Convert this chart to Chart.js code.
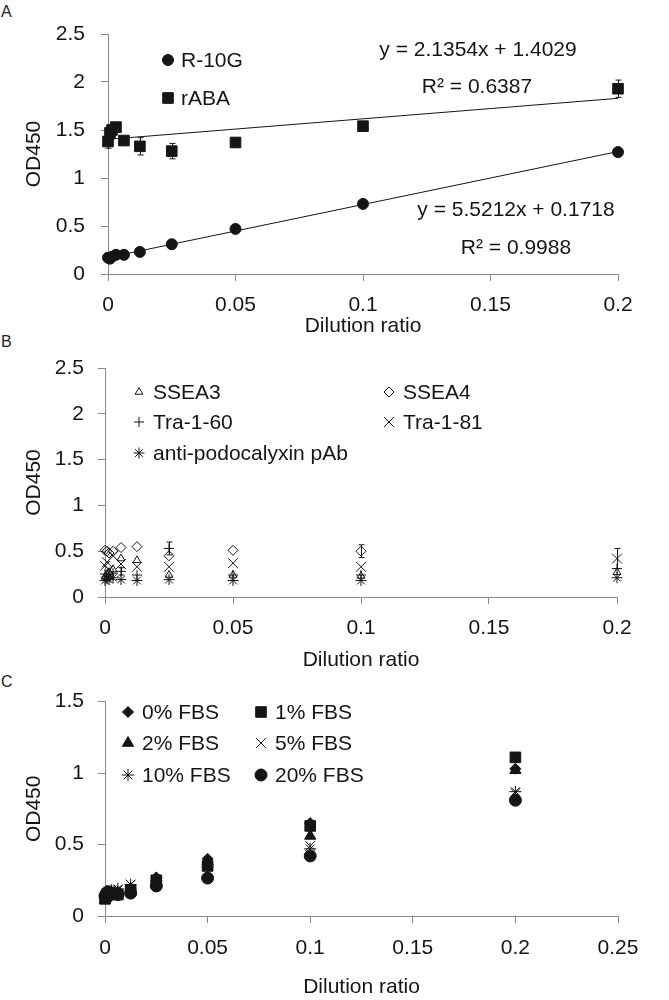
<!DOCTYPE html>
<html>
<head>
<meta charset="utf-8">
<title>OD450 vs dilution ratio</title>
<script src="https://cdn.jsdelivr.net/npm/chart.js@4.4.1/dist/chart.umd.min.js"></script>
<style>
  html, body { margin: 0; padding: 0; background: #fff; }
  body { position: relative; width: 669px; height: 1000px; overflow: hidden; font-family: "Liberation Sans", Arial, sans-serif; }
  canvas { position: absolute; left: 0; }
  .tag { position: absolute; left: 1px; font-size: 16px; line-height: 16px; color: #222; }
</style>
</head>
<body>
<div class="tag" style="top:4px">A</div>
<div class="tag" style="top:334px">B</div>
<div class="tag" style="top:674px">C</div>
<canvas id="chartA" width="669" height="340" style="top:0"></canvas>
<canvas id="chartB" width="669" height="335" style="top:340px"></canvas>
<canvas id="chartC" width="669" height="325" style="top:675px"></canvas>
<script>
const FONT = '"Liberation Sans", Arial, sans-serif';
const INK = '#151515';
const AXIS = '#8a8a8a';

// dilution series used by all three panels
const dilution = [0, 0.00078125, 0.0015625, 0.003125, 0.00625, 0.0125, 0.025, 0.05, 0.1, 0.2];

// panel A
const r10g = [0.17, 0.16, 0.18, 0.20, 0.20, 0.23, 0.31, 0.47, 0.73, 1.27];
const r10gErr = [0.01, 0.01, 0.01, 0.01, 0.01, 0.01, 0.02, 0.02, 0.02, 0.02];
const rABA = [1.38, 1.47, 1.50, 1.53, 1.39, 1.33, 1.28, 1.37, 1.54, 1.93];
const rABAErr = [0.07, 0.03, 0.02, 0.03, 0.03, 0.09, 0.08, 0.02, 0.03, 0.09];
const fitR10g = { slope: 5.5212, intercept: 0.1718 };
const fitRABA = { slope: 2.1354, intercept: 1.4029 };
const xTicksAB = [0, 0.05, 0.1, 0.15, 0.2];
const yTicksAB = [0, 0.5, 1, 1.5, 2, 2.5];

// panel B
const ssea3 = [0.22, 0.25, 0.27, 0.30, 0.42, 0.40, 0.24, 0.24, 0.23, 0.27];
const ssea4 = [0.51, 0.50, 0.48, 0.50, 0.54, 0.55, 0.45, 0.51, 0.50, null];
const ssea4Err = [0, 0, 0, 0, 0, 0, 0, 0, 0.07, 0];
const tra160 = [0.25, 0.22, 0.24, 0.26, 0.28, 0.24, 0.53, 0.24, 0.24, 0.31];
const tra160Err = [0, 0, 0, 0, 0.04, 0, 0.07, 0, 0, 0];
const tra181 = [0.34, 0.38, 0.30, 0.45, 0.36, 0.33, 0.33, 0.37, 0.33, 0.42];
const tra181Err = [0, 0, 0, 0, 0, 0, 0, 0, 0, 0.11];
const podo = [0.18, 0.20, 0.19, 0.21, 0.19, 0.18, 0.19, 0.18, 0.18, 0.21];

// panel C
const fbs0 = [0.13, 0.15, 0.16, 0.17, 0.17, 0.19, 0.27, 0.40, 0.65, 1.03];
const fbs1 = [0.12, 0.14, 0.15, 0.16, 0.15, 0.18, 0.25, 0.35, 0.63, 1.11];
const fbs2 = [0.11, 0.14, 0.15, 0.16, 0.16, 0.19, 0.26, 0.38, 0.56, 1.02];
const fbs5 = [0.14, 0.16, 0.17, 0.18, 0.18, 0.22, 0.25, 0.35, 0.49, 0.86];
const fbs10 = [0.15, 0.16, 0.17, 0.18, 0.19, 0.22, 0.25, 0.34, 0.47, 0.87];
const fbs20 = [0.14, 0.16, 0.17, 0.16, 0.15, 0.16, 0.21, 0.265, 0.42, 0.81];
const xTicksC = [0, 0.05, 0.1, 0.15, 0.2, 0.25];
const yTicksC = [0, 0.5, 1, 1.5];

Chart.defaults.font.family = FONT;
Chart.defaults.font.size = 21;
Chart.defaults.color = INK;

const pts = ys => dilution.map((x, i) => ({ x, y: ys[i] }));

function markers(label, ys, style, r, filled, errs) {
  return {
    label, data: pts(ys), pointStyle: style, pointRadius: r, pointHoverRadius: r,
    backgroundColor: filled ? INK : 'rgba(0,0,0,0)', borderColor: INK, borderWidth: 1,
    clip: false, errors: errs, order: 1
  };
}

function trend(fit, x0, x1) {
  return {
    label: 'fit', hideInLegend: true, showLine: true, pointRadius: 0, borderWidth: 1,
    borderColor: INK, order: 2, clip: false,
    data: [{ x: x0, y: fit.slope * x0 + fit.intercept }, { x: x1, y: fit.slope * x1 + fit.intercept }]
  };
}

// vertical error bars with small caps
const errorBars = {
  id: 'errorBars',
  beforeDatasetsDraw(chart) {
    const { ctx, scales: { x, y } } = chart;
    ctx.save();
    ctx.strokeStyle = INK;
    ctx.lineWidth = 1;
    chart.data.datasets.forEach(ds => {
      if (!ds.errors) return;
      ds.data.forEach((p, j) => {
        const e = ds.errors[j];
        if (!e || p.y == null) return;
        const px = Math.round(x.getPixelForValue(p.x)) + 0.5;
        const top = y.getPixelForValue(p.y + e), bot = y.getPixelForValue(p.y - e);
        ctx.beginPath();
        ctx.moveTo(px, top); ctx.lineTo(px, bot);
        ctx.moveTo(px - 3, top); ctx.lineTo(px + 3, top);
        ctx.moveTo(px - 3, bot); ctx.lineTo(px + 3, bot);
        ctx.stroke();
      });
    });
    ctx.restore();
  }
};

// legend laid out on a fixed grid of columns / rows
const gridLegend = {
  id: 'gridLegend',
  afterDraw(chart, args, opts) {
    if (!opts.cols) return;
    const ctx = chart.ctx;
    const items = chart.data.datasets.filter(d => !d.hideInLegend);
    ctx.save();
    ctx.font = '21px ' + FONT;
    ctx.textBaseline = 'middle';
    items.forEach((d, i) => {
      const cx = opts.cols[i % opts.cols.length];
      const cy = opts.rows[Math.floor(i / opts.cols.length)];
      ctx.fillStyle = d.backgroundColor;
      ctx.strokeStyle = d.borderColor;
      ctx.lineWidth = d.borderWidth;
      Chart.helpers.drawPoint(ctx, { pointStyle: d.pointStyle, radius: d.pointRadius, borderWidth: d.borderWidth, rotation: 0 }, cx, cy);
      ctx.fillStyle = INK;
      ctx.fillText(d.label, cx + opts.gap, cy + 1);
    });
    ctx.restore();
  }
};

// free text placed at data coordinates (trendline equations)
const notes = {
  id: 'notes',
  afterDraw(chart, args, opts) {
    if (!opts.items) return;
    const { ctx, scales: { x, y } } = chart;
    ctx.save();
    ctx.font = '21px ' + FONT;
    ctx.fillStyle = INK;
    ctx.textAlign = 'center';
    ctx.textBaseline = 'middle';
    opts.items.forEach(n => ctx.fillText(n.text, x.getPixelForValue(n.x), y.getPixelForValue(n.y)));
    ctx.restore();
  }
};

function axes(p) {
  return {
    x: {
      type: 'linear', min: 0, max: p.xTicks[p.xTicks.length - 1],
      afterBuildTicks: s => { s.ticks = p.xTicks.map(v => ({ value: v })); },
      afterFit: s => { s.height = p.xHeight; },
      ticks: { callback: v => String(v), padding: p.xPad, maxRotation: 0 },
      grid: { drawOnChartArea: false, tickLength: 7, color: AXIS },
      border: { color: AXIS },
      title: { display: true, text: 'Dilution ratio', font: { size: 21, lineHeight: 1.2 }, padding: { top: 0, bottom: p.titlePad } }
    },
    y: {
      type: 'linear', min: 0, max: p.yTicks[p.yTicks.length - 1],
      afterBuildTicks: s => { s.ticks = p.yTicks.map(v => ({ value: v })); },
      afterFit: s => { s.width = p.yWidth; },
      ticks: { callback: v => String(v), padding: p.yPad },
      grid: { drawOnChartArea: false, tickLength: 7, color: AXIS },
      border: { color: AXIS },
      title: { display: true, text: 'OD450', font: { size: 21, lineHeight: 1.2 }, padding: { top: 21.4, bottom: 0 } }
    }
  };
}

function makeChart(id, datasets, p, extra) {
  return new Chart(document.getElementById(id), {
    type: 'scatter',
    data: { datasets },
    options: {
      responsive: false,
      animation: false,
      events: [],
      layout: { padding: { left: 0, right: p.padRight, top: p.padTop, bottom: 0 } },
      scales: axes(p),
      plugins: Object.assign({ legend: { display: false }, tooltip: { enabled: false } }, extra)
    },
    plugins: [errorBars, gridLegend, notes]
  });
}

makeChart('chartA', [
  markers('R-10G', r10g, 'circle', 5.5, true, r10gErr),
  markers('rABA', rABA, 'rect', 7.5, true, rABAErr),
  trend(fitR10g, 0, 0.2),
  trend(fitRABA, 0, 0.2)
], { xTicks: xTicksAB, yTicks: yTicksAB, xHeight: 66, yWidth: 108, xPad: 11.4, yPad: 16, titlePad: 1.4, padRight: 51, padTop: 34 }, {
  gridLegend: { cols: [168], rows: [60, 98], gap: 13 },
  notes: { items: [
    { text: 'y = 2.1354x + 1.4029', x: 0.1451, y: 2.333 },
    { text: 'R² = 0.6387', x: 0.1447, y: 1.948 },
    { text: 'y = 5.5212x + 0.1718', x: 0.16, y: 0.667 },
    { text: 'R² = 0.9988', x: 0.16, y: 0.271 }
  ] }
});

makeChart('chartB', [
  markers('SSEA3', ssea3, 'triangle', 4.5, false, null),
  markers('SSEA4', ssea4, 'rectRot', 5, false, ssea4Err),
  markers('Tra-1-60', tra160, 'cross', 5, false, tra160Err),
  markers('Tra-1-81', tra181, 'crossRot', 7, false, tra181Err),
  markers('anti-podocalyxin pAb', podo, 'star', 5.5, false, null)
], { xTicks: xTicksAB, yTicks: yTicksAB, xHeight: 78, yWidth: 105, xPad: 11.4, yPad: 14, titlePad: 2.4, padRight: 52, padTop: 28 }, {
  gridLegend: { cols: [139, 389], rows: [52, 82, 113], gap: 14 }
});

makeChart('chartC', [
  markers('0% FBS', fbs0, 'rectRot', 5.5, true, null),
  markers('1% FBS', fbs1, 'rect', 7.5, true, null),
  markers('2% FBS', fbs2, 'triangle', 6.5, true, null),
  markers('5% FBS', fbs5, 'crossRot', 7, false, null),
  markers('10% FBS', fbs10, 'star', 6, false, null),
  markers('20% FBS', fbs20, 'circle', 6, true, null)
], { xTicks: xTicksC, yTicks: yTicksC, xHeight: 84, yWidth: 105, xPad: 12.4, yPad: 14, titlePad: 0.4, padRight: 51, padTop: 26 }, {
  gridLegend: { cols: [128, 261], rows: [37, 68, 100], gap: 14 }
});
</script>
</body>
</html>
